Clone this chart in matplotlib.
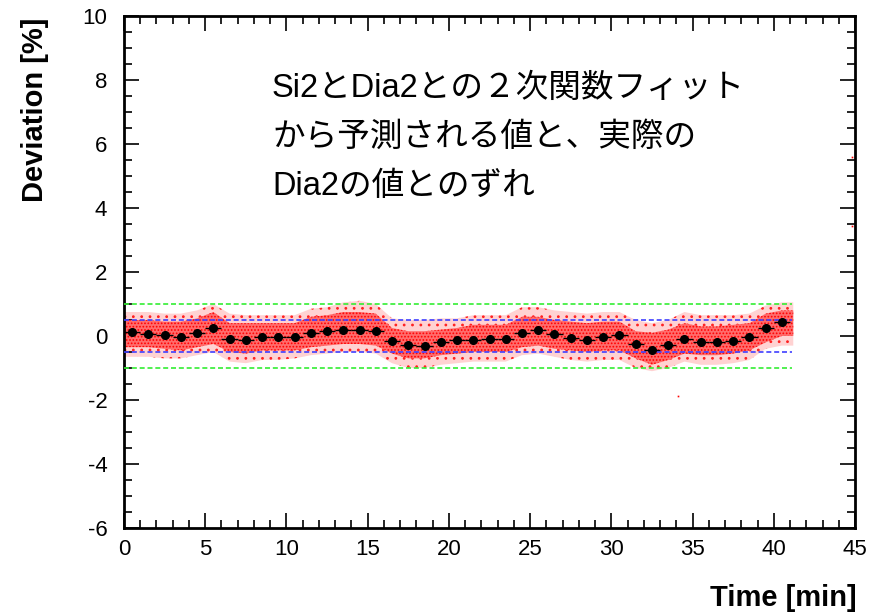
import numpy as np
import matplotlib.pyplot as plt
from matplotlib.ticker import MultipleLocator

plt.rcParams['font.family'] = ['Liberation Sans', 'DejaVu Sans']
plt.rcParams['axes.unicode_minus'] = False
plt.rcParams['hatch.linewidth'] = 0.8

# Promedio por minuto (puntos negros)
t_bin = [0.5, 1.5, 2.5, 3.5, 4.5, 5.5, 6.5, 7.5, 8.5, 9.5,
         10.5, 11.5, 12.5, 13.5, 14.5, 15.5, 16.5, 17.5, 18.5, 19.5,
         20.5, 21.5, 22.5, 23.5, 24.5, 25.5, 26.5, 27.5, 28.5, 29.5,
         30.5, 31.5, 32.5, 33.5, 34.5, 35.5, 36.5, 37.5, 38.5, 39.5, 40.5]
dev_mean = [0.12, 0.07, 0.03, -0.04, 0.09, 0.24, -0.08, -0.11, -0.02, -0.04,
            -0.04, 0.08, 0.15, 0.20, 0.19, 0.16, -0.15, -0.28, -0.30, -0.19,
            -0.14, -0.11, -0.10, -0.10, 0.10, 0.18, 0.06, -0.05, -0.11, -0.03,
            0.02, -0.26, -0.45, -0.29, -0.09, -0.20, -0.19, -0.15, -0.03, 0.26, 0.44]

# Nube de puntos rojos: borde denso y borde disperso por minuto
core_hi = [0.50, 0.50, 0.45, 0.45, 0.55, 0.75, 0.40, 0.40, 0.40, 0.40,
           0.40, 0.60, 0.65, 0.75, 0.75, 0.70, 0.25, 0.15, 0.15, 0.20,
           0.25, 0.35, 0.35, 0.35, 0.60, 0.60, 0.50, 0.45, 0.40, 0.45,
           0.45, 0.15, 0.10, 0.20, 0.40, 0.30, 0.30, 0.35, 0.40, 0.70, 0.80]
core_lo = [-0.35, -0.35, -0.40, -0.45, -0.35, -0.25, -0.50, -0.55, -0.45, -0.45,
           -0.45, -0.35, -0.30, -0.25, -0.25, -0.30, -0.55, -0.70, -0.70, -0.60,
           -0.55, -0.50, -0.50, -0.50, -0.35, -0.30, -0.40, -0.45, -0.50, -0.45,
           -0.45, -0.70, -0.90, -0.75, -0.55, -0.60, -0.60, -0.55, -0.45, -0.20, 0.00]
out_hi = [0.75, 0.75, 0.70, 0.70, 0.80, 1.00, 0.70, 0.65, 0.65, 0.65,
          0.65, 0.85, 0.90, 1.05, 1.10, 1.00, 0.55, 0.50, 0.50, 0.55,
          0.55, 0.65, 0.65, 0.65, 0.90, 0.90, 0.80, 0.75, 0.70, 0.75,
          0.75, 0.50, 0.40, 0.50, 0.75, 0.65, 0.65, 0.65, 0.70, 0.95, 1.05]
out_lo = [-0.65, -0.65, -0.70, -0.70, -0.60, -0.50, -0.80, -0.85, -0.75, -0.75,
          -0.70, -0.60, -0.55, -0.50, -0.50, -0.55, -0.85, -1.00, -1.00, -0.90,
          -0.85, -0.80, -0.80, -0.80, -0.60, -0.55, -0.65, -0.75, -0.80, -0.75,
          -0.75, -1.00, -1.10, -1.00, -0.80, -0.90, -0.90, -0.85, -0.75, -0.40, -0.30]
t_start = 0.0
t_end = 41.2

# Puntos sueltos
t_sueltos = [34.1, 44.8, 44.8]
dev_sueltos = [-1.87, 5.6, 3.45]

texto = ['Si2とDia2との２次関数フィット', 'から予測される値と、実際の', 'Dia2の値とのずれ']

#%% Grafico
fig = plt.figure(figsize=(8.83, 6.13), dpi=100)
ax = fig.add_axes([124/883, 1 - 528/613, 731/883, 512/613])

t_band = [t_start] + t_bin + [t_end]
def ext(v):
    return [v[0]] + list(v) + [v[-1]]

# nube: zona dispersa y zona densa
ax.fill_between(t_band, ext(out_lo), ext(out_hi), facecolor='#ffd2d2', edgecolor='#ff2020',
                hatch='..', lw=0, zorder=1)
ax.fill_between(t_band, ext(core_lo), ext(core_hi), facecolor='#ff6c6c', edgecolor='#ff0000',
                hatch='.....', lw=0, zorder=2)
ax.plot(t_sueltos, dev_sueltos, 's', ms=1.2, color='red', mew=0, zorder=2)

# Bandas de +-0.5 % y +-1 %
ax.hlines([1, -1], 0, 41.1, colors='#33ee33', linestyles=(0, (3, 1.7)), lw=1.2, zorder=3)
ax.hlines([0.5, -0.5], 0, 41.1, colors='#4040ff', linestyles=(0, (3, 1.7)), lw=1.2, zorder=3)

ax.errorbar(t_bin, dev_mean, xerr=0.5, fmt='o', color='k', ms=5.5, elinewidth=1.0,
            capsize=0, zorder=4)

ax.set_xlim(0, 45)
ax.set_ylim(-6, 10)
ax.xaxis.set_major_locator(MultipleLocator(5))
ax.xaxis.set_minor_locator(MultipleLocator(1))
ax.yaxis.set_major_locator(MultipleLocator(2))
ax.yaxis.set_minor_locator(MultipleLocator(0.5))
ax.tick_params(which='both', direction='in', top=True, right=True, width=1.2)
ax.tick_params(which='major', length=11, labelsize=16)
ax.tick_params(which='minor', length=5.5)
ax.tick_params(axis='x', which='major', pad=8)
ax.tick_params(axis='y', which='major', pad=12)
for s in ax.spines.values():
    s.set_linewidth(2)

fig.text(857/883, 1 - 598/613, 'Time [min]', ha='right', va='center',
         fontsize=21, fontweight='bold')
fig.text(35/883, 1 - 18/613, 'Deviation [%]', ha='center', va='top',
         rotation=90, fontsize=21, fontweight='bold')

for i, linea in enumerate(texto):
    fig.text(272/883, 1 - (88 + 49*i)/613, linea, ha='left', va='center', fontsize=23.5,
             family=['Liberation Sans', 'Noto Sans CJK JP'])

fig.savefig('out.png', dpi=100)
